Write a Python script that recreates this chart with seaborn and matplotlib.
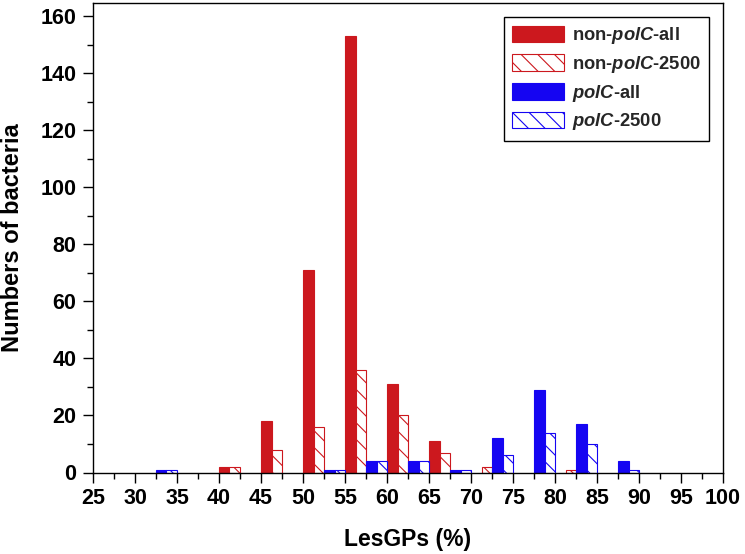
import matplotlib
matplotlib.use("Agg")
import matplotlib.pyplot as plt
import seaborn as sns
import pandas as pd
from matplotlib.patches import Patch
from matplotlib.ticker import MultipleLocator

# ---- data ----
bin_centers   = [32.5, 37.5, 42.5, 47.5, 52.5, 57.5, 62.5, 67.5, 72.5, 77.5, 82.5, 87.5]
non_polc_all  = [0, 0, 2, 18, 71, 153, 31, 11, 0, 0, 0, 0]
non_polc_2500 = [0, 0, 2, 8, 16, 36, 20, 7, 2, 0, 1, 0]
polc_all      = [1, 0, 0, 0, 1, 4, 4, 1, 12, 29, 17, 4]
polc_2500     = [1, 0, 0, 0, 1, 4, 4, 1, 6, 14, 10, 1]
series_names  = ["non-polC-all", "non-polC-2500", "polC-all", "polC-2500"]
legend_labels = [r"non-$\mathit{polC}$-all", r"non-$\mathit{polC}$-2500",
                 r"$\mathit{polC}$-all", r"$\mathit{polC}$-2500"]
x_ticks = list(range(25, 101, 5))
y_ticks = list(range(0, 161, 20))
x_label = "LesGPs (%)"
y_label = "Numbers of bacteria"

RED = "#CC181E"
BLUE = "#1505F2"
styles = [
    dict(face=RED, edge=RED, hatch=None),
    dict(face="white", edge=RED, hatch="\\\\"),
    dict(face=BLUE, edge=BLUE, hatch=None),
    dict(face="white", edge=BLUE, hatch="\\\\"),
]

sns.set_theme(style="ticks")
plt.rcParams["font.family"] = ["Liberation Sans", "DejaVu Sans"]
plt.rcParams["mathtext.fontset"] = "custom"
plt.rcParams["mathtext.it"] = "Liberation Sans:italic:bold"
plt.rcParams["mathtext.rm"] = "Liberation Sans:bold"
plt.rcParams["mathtext.bf"] = "Liberation Sans:bold"
plt.rcParams["hatch.linewidth"] = 0.8

rows = []
for name, vals in zip(series_names, [non_polc_all, non_polc_2500, polc_all, polc_2500]):
    for c, v in zip(bin_centers, vals):
        if v > 0:
            rows.append({"bin": c, "count": v, "series": name})
df = pd.DataFrame(rows)

fig = plt.figure(figsize=(7.45, 5.54), dpi=100)
ax = fig.add_axes([93 / 745, 1 - 472.5 / 554, 630 / 745, 469.8 / 554])

sns.barplot(data=df, x="bin", y="count", hue="series", hue_order=series_names,
            native_scale=True, width=1.0, gap=0, dodge=True, errorbar=None,
            palette=[RED, RED, BLUE, BLUE], legend=False, ax=ax)

for cont, st in zip(ax.containers, styles):
    for p in cont:
        p.set_facecolor(st["face"])
        p.set_edgecolor(st["edge"])
        p.set_linewidth(0.8)
        if st["hatch"]:
            p.set_hatch(st["hatch"])

ax.set_xlim(25, 100)
ax.set_ylim(0, 164.7)
ax.set_xticks(x_ticks)
ax.set_yticks(y_ticks)
ax.xaxis.set_minor_locator(MultipleLocator(2.5))
ax.yaxis.set_minor_locator(MultipleLocator(10))
ax.tick_params(axis="both", which="major", direction="out", length=7, width=1.0,
               labelsize=15.5, color="black", labelcolor="black")
ax.tick_params(axis="y", which="major", pad=5)
ax.tick_params(axis="x", which="major", pad=4)
ax.tick_params(axis="both", which="minor", direction="out", length=4, width=1.0, color="black")
ax.tick_params(top=False, right=False, which="both")
for lab in ax.get_xticklabels() + ax.get_yticklabels():
    lab.set_fontweight("bold")
for s in ax.spines.values():
    s.set_visible(True)
    s.set_color("black")
    s.set_linewidth(1.0)

ax.set_xlabel(x_label, fontsize=16.5, fontweight="bold", color="black")
ax.set_ylabel(y_label, fontsize=17, fontweight="bold", color="black")
ax.xaxis.label.set_va("center")
ax.xaxis.set_label_coords(0.5, -0.1416)
ax.yaxis.label.set_va("center")
ax.yaxis.set_label_coords(-0.128, 0.5)

handles = [Patch(facecolor=st["face"], edgecolor=st["edge"], hatch=st["hatch"], linewidth=0.8)
           for st in styles]
leg = ax.legend(handles, legend_labels, loc="upper right",
                bbox_to_anchor=(709 / 745, 1 - 17 / 554), bbox_transform=fig.transFigure,
                borderaxespad=0, prop={"weight": "bold", "size": 13.2},
                handlelength=2.8, handleheight=1.0, handletextpad=0.45,
                labelspacing=0.42, borderpad=0.45, frameon=True, fancybox=False,
                framealpha=1, edgecolor="black")
leg.get_frame().set_linewidth(1.0)

fig.savefig("out.png", dpi=100)
